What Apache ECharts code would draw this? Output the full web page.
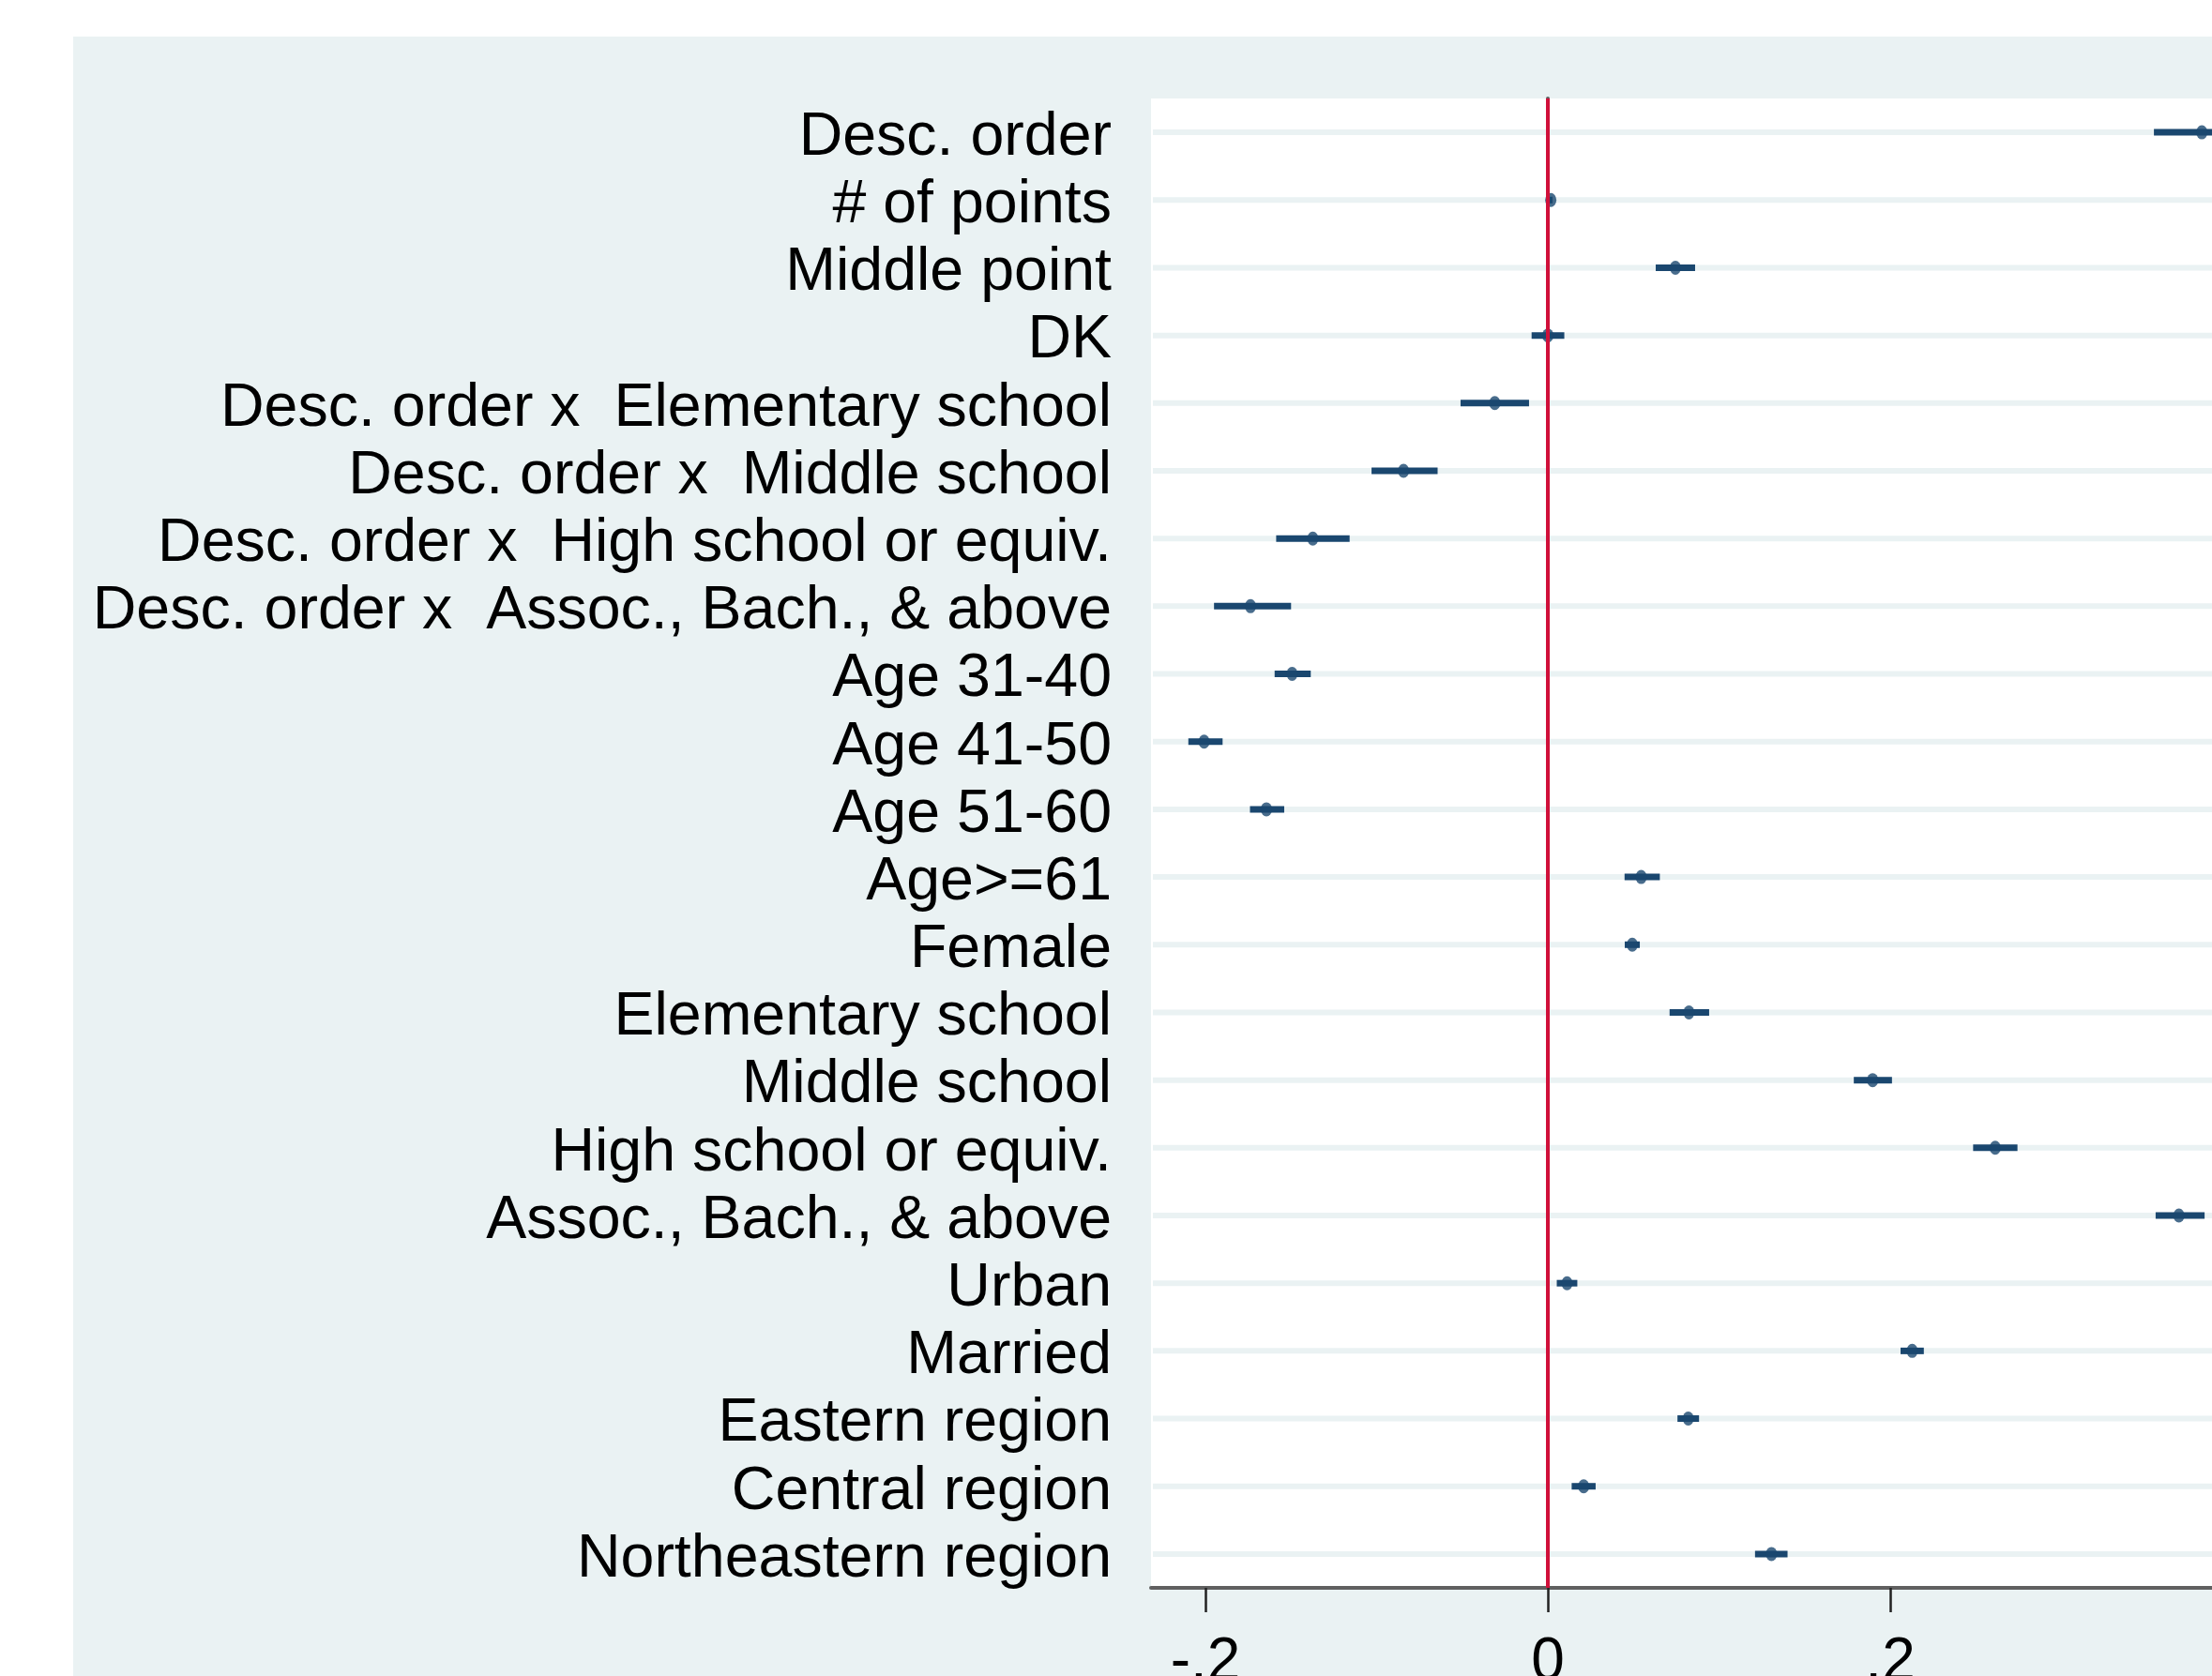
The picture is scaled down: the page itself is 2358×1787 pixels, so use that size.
<!DOCTYPE html>
<html>
<head>
<meta charset="utf-8">
<script src="https://cdn.jsdelivr.net/npm/echarts@6/dist/echarts.min.js"></script>
<style>
  html, body { margin: 0; padding: 0; background: #fff; overflow: hidden; }
  #chart { width: 2358px; height: 1787px; }
</style>
</head>
<body>
<div id="chart"></div>
<script>
// coefficient plot: point estimates with confidence intervals
const categories = [
  'Desc. order', '# of points', 'Middle point', 'DK',
  'Desc. order x  Elementary school', 'Desc. order x  Middle school',
  'Desc. order x  High school or equiv.', 'Desc. order x  Assoc., Bach., & above',
  'Age 31-40', 'Age 41-50', 'Age 51-60', 'Age>=61', 'Female',
  'Elementary school', 'Middle school', 'High school or equiv.', 'Assoc., Bach., & above',
  'Urban', 'Married', 'Eastern region', 'Central region', 'Northeastern region'
];
const estimates = [0.382, 0.0017, 0.0745, 0.0, -0.031, -0.0843, -0.1373, -0.1737,
  -0.1494, -0.2008, -0.1644, 0.0545, 0.0493, 0.0824, 0.1897, 0.2613, 0.3686,
  0.0112, 0.2128, 0.082, 0.0209, 0.1306];
const ciLow = [0.354, 0.0007, 0.063, -0.0095, -0.051, -0.103, -0.1587, -0.195,
  -0.1596, -0.210, -0.174, 0.0448, 0.0449, 0.0711, 0.1787, 0.2484, 0.355,
  0.0052, 0.206, 0.0757, 0.0139, 0.121];
const ciHigh = [0.410, 0.0027, 0.086, 0.0096, -0.011, -0.0644, -0.1158, -0.150,
  -0.1385, -0.190, -0.154, 0.0654, 0.0537, 0.0942, 0.2010, 0.2743, 0.3836,
  0.0172, 0.2196, 0.0883, 0.0279, 0.140];
const xTickValues = [-0.2, 0, 0.2, 0.4];
const xTickLabels = ['-.2', '0', '.2', '.4'];
const xMin = -0.2318;
const xMax = 0.45;

const navy = '#1A476F';
const font = 'Liberation Sans';

const chart = echarts.init(document.getElementById('chart'));

const option = {
  backgroundColor: '#fff',
  animation: false,
  graphic: [{
    type: 'rect', z: -100, silent: true,
    shape: { x: 78, y: 39, width: 2400, height: 1800 },
    style: { fill: '#EAF2F3' }
  }],
  grid: {
    left: 1227, top: 105, bottom: 94,
    width: (xMax - xMin) * 1825,
    outerBoundsMode: 'none',
    containLabel: false,
    show: true, backgroundColor: '#fff', borderWidth: 0
  },
  xAxis: {
    type: 'value', min: xMin, max: xMax,
    axisLine: { show: true, onZero: false, lineStyle: { color: '#606060', width: 4 } },
    axisTick: { show: true, length: 26, customValues: xTickValues, lineStyle: { color: '#222', width: 2.5 } },
    axisLabel: {
      customValues: xTickValues, margin: 48,
      fontFamily: font, fontSize: 64, color: '#000',
      formatter: v => xTickLabels[xTickValues.findIndex(t => Math.abs(t - v) < 1e-9)]
    },
    splitLine: { show: false }
  },
  yAxis: {
    type: 'category', data: categories, inverse: true,
    axisLine: { show: true, lineStyle: { color: '#606060', width: 4 } },
    axisTick: { show: true, interval: 0, alignWithLabel: true, length: 26, lineStyle: { color: '#4a4a4a', width: 4 } },
    axisLabel: {
      interval: 0, margin: 42, fontFamily: font, fontSize: 64.5, color: '#000',
      verticalAlign: 'top', lineHeight: 12
    },
    splitLine: { show: false }
  },
  series: [
    {
      // faint row lines at each category
      type: 'custom', z: 1, silent: true,
      data: categories.map((c, i) => [0, i]),
      encode: { x: 0, y: 1 },
      renderItem: (params, api) => {
        const cs = params.coordSys;
        const y = api.coord([0, api.value(1)])[1];
        return {
          type: 'line',
          shape: { x1: cs.x + 2, y1: y, x2: cs.x + cs.width, y2: y },
          style: { stroke: '#EAF2F3', lineWidth: 6 }
        };
      }
    },
    {
      type: 'scatter', z: 2, data: [],
      markLine: {
        silent: true, symbol: 'none', label: { show: false },
        lineStyle: { color: '#D0103A', width: 4, type: 'solid' },
        data: [{ xAxis: 0 }]
      }
    },
    {
      type: 'custom', z: 3, silent: true,
      data: categories.map((c, i) => [ciLow[i], ciHigh[i], i]),
      encode: { x: [0, 1], y: 2 },
      renderItem: (params, api) => {
        const p1 = api.coord([api.value(0), api.value(2)]);
        const p2 = api.coord([api.value(1), api.value(2)]);
        return {
          type: 'line',
          shape: { x1: p1[0], y1: p1[1], x2: p2[0], y2: p2[1] },
          style: { stroke: navy, lineWidth: 7 }
        };
      }
    },
    {
      type: 'scatter', z: 4,
      symbol: 'circle', symbolSize: [12, 15],
      itemStyle: { color: navy },
      data: estimates.map((v, i) => [v, i])
    }
  ]
};

chart.setOption(option);
</script>
</body>
</html>
